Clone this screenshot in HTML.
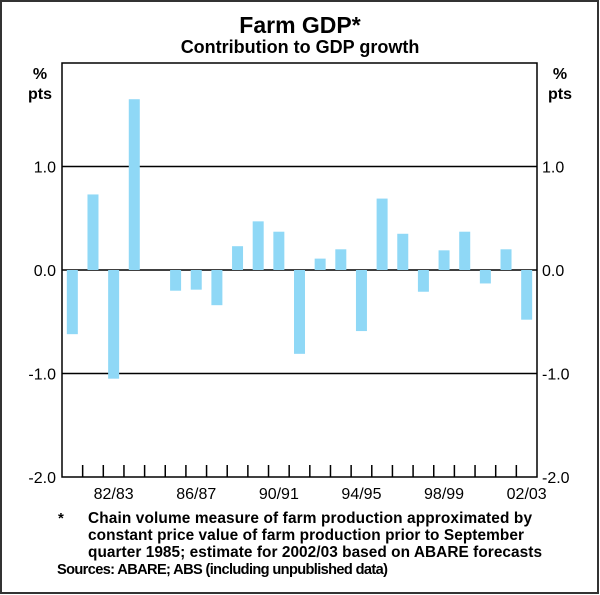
<!DOCTYPE html>
<html><head><meta charset="utf-8"><style>
html,body{margin:0;padding:0;background:#fff}
svg{display:block;font-family:"Liberation Sans",Arial,sans-serif}
</style></head><body>
<svg width="600" height="595" viewBox="0 0 600 595">
<rect x="1" y="1" width="597" height="592" fill="#fff" stroke="#333" stroke-width="2"/>
<text x="300" y="33" text-anchor="middle" font-size="23" font-weight="bold">Farm GDP*</text>
<text x="300" y="53" text-anchor="middle" font-size="18" font-weight="bold">Contribution to GDP growth</text>
<text x="40" y="79" text-anchor="middle" font-size="16" font-weight="bold">%</text>
<text x="40" y="99" text-anchor="middle" font-size="16" font-weight="bold">pts</text>
<text x="560" y="79" text-anchor="middle" font-size="16" font-weight="bold">%</text>
<text x="560" y="99" text-anchor="middle" font-size="16" font-weight="bold">pts</text>
<g id="grid"></g>
<g id="bars"></g>
<g id="axes"></g>
<g font-weight="bold">
<text x="58" y="523" font-size="15">*</text>
<text x="88" y="523" font-size="15.4" textLength="444">Chain volume measure of farm production approximated by</text>
<text x="88" y="540" font-size="15.4" textLength="436">constant price value of farm production prior to September</text>
<text x="88" y="557" font-size="15.4" textLength="454">quarter 1985; estimate for 2002/03 based on ABARE forecasts</text>
<text x="57" y="574" font-size="14.6" textLength="331">Sources: ABARE; ABS (including unpublished data)</text>
</g>
</svg>
<script>
const categories = ["80/81","81/82","82/83","83/84","84/85","85/86","86/87","87/88","88/89","89/90","90/91","91/92","92/93","93/94","94/95","95/96","96/97","97/98","98/99","99/00","00/01","01/02","02/03"];
const values = [-0.62,0.73,-1.05,1.65,0,-0.2,-0.19,-0.34,0.23,0.47,0.37,-0.81,0.11,0.2,-0.59,0.69,0.35,-0.21,0.19,0.37,-0.13,0.2,-0.48];
const yTicks = [-2,-1,0,1,2];
const yTickLabels = ["-2.0","-1.0","0.0","1.0",""];
const xLabels = ["82/83","86/87","90/91","94/95","98/99","02/03"];

const NS="http://www.w3.org/2000/svg";
const L=62,R=537,T=63,B=477,ymin=-2,ymax=2;
const step=(R-L)/categories.length;
function y(v){return B-(v-ymin)/(ymax-ymin)*(B-T);}
function x(i){return L+step*(i+0.5);}
function mk(tag,attrs,parent,text){const e=document.createElementNS(NS,tag);for(const k in attrs)e.setAttribute(k,attrs[k]);if(text!==undefined)e.textContent=text;document.getElementById(parent).appendChild(e);return e;}

yTicks.forEach((t,i)=>{
  if(t>ymin&&t<ymax){
    const g=mk('line',{x1:L,x2:R,y1:y(t),y2:y(t),stroke:'#000','stroke-width':1.5},'grid');
    
    
  }
  if(yTickLabels[i]){
    const a=mk('text',{x:L-6,y:y(t)+6,'text-anchor':'end','font-size':16},'axes',yTickLabels[i]);
    
    
    const b=mk('text',{x:R+5,y:y(t)+6,'text-anchor':'start','font-size':16},'axes',yTickLabels[i]);
    
    
  }
});
values.forEach((v,i)=>{
  const w=11;
  const r=mk('rect',{x:x(i)-w/2,y:Math.min(y(v),y(0)),width:w,height:Math.abs(y(v)-y(0)),fill:'#8fd8f6'},'bars');
  
  
});
const fr=mk('rect',{x:L,y:T,width:R-L,height:B-T,fill:'none',stroke:'#000','stroke-width':1.5},'axes');


for(let i=1;i<categories.length;i++){
  const tk=mk('line',{x1:L+step*i,x2:L+step*i,y1:B-12,y2:B,stroke:'#000','stroke-width':1.5},'axes');
  
  
}
xLabels.forEach(lab=>{
  const i=categories.indexOf(lab);
  const t=mk('text',{x:x(i),y:B+22,'text-anchor':'middle','font-size':16},'axes',lab);
  
  
});
</script>
</body></html>
